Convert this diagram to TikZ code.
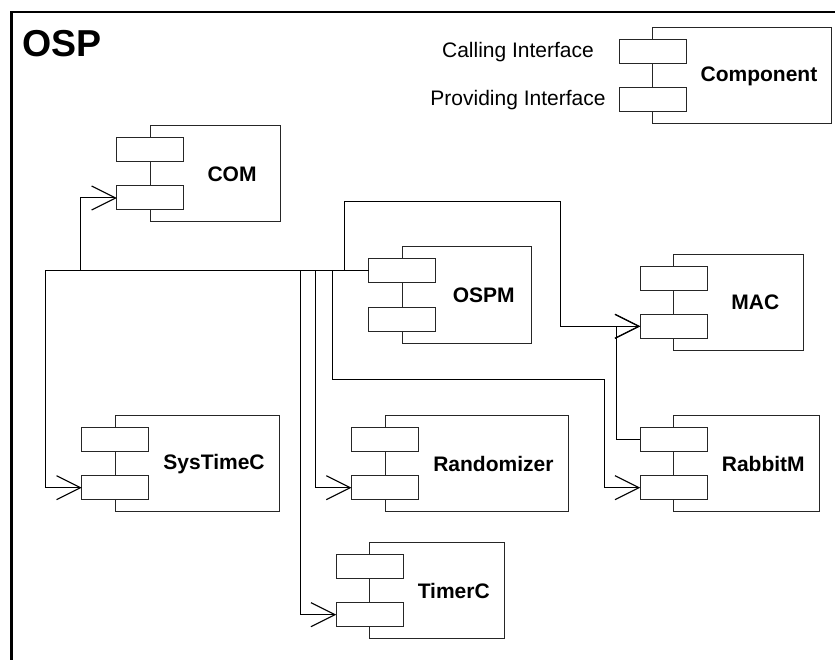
\documentclass[tikz,border=0pt]{standalone}
\usepackage{fontspec}
\setmainfont{Liberation Sans}
\usetikzlibrary{calc,arrows.meta}
\tikzset{
  mainbox/.style={draw=black!85, line width=1pt, minimum height=96pt, inner sep=0pt, outer sep=0pt, fill=white},
  portbox/.style={draw=black!85, line width=1pt, minimum width=67pt, minimum height=24pt, inner sep=0pt, outer sep=0pt, fill=white},
  lbl/.style={inner sep=0pt, font=\fontsize{21}{25}\selectfont\bfseries},
  legtxt/.style={inner sep=0pt, font=\fontsize{21}{25}\selectfont},
  conn/.style={draw=black, line width=1pt, -{Straight Barb[length=24pt,width=24pt,line width=1.1pt]}},
  frame/.style={draw=black, line width=2.2pt}
}
\newcommand\mycomp[5]{%
  \node[mainbox, minimum width=#4pt, anchor=north west] (#1) at (#2,#3) {};
  \node[portbox, anchor=north west] (#1-c) at ([xshift=-33.5pt, yshift=-12pt]#1.north west) {};
  \node[portbox, anchor=north west] (#1-p) at ([xshift=-33.5pt, yshift=-60pt]#1.north west) {};
  \node[lbl] (#1-l) at ($(#1-c.east |- #1.center)!0.5!(#1.east)$) {#5};
}
\begin{document}
\begin{tikzpicture}[x=1pt,y=-1pt]
\useasboundingbox (0,0) rectangle (835,660);
\clip (0,0) rectangle (835,660);
\fill[white] (0,0) rectangle (835,660);
\draw[frame] (11.5,700) -- (11.5,12) -- (900,12) -- (900,700) -- cycle;
\node[inner sep=0pt, anchor=base west, font=\fontsize{37.5}{42}\selectfont\bfseries] (osp) at (22,57) {OSP};

\mycomp{Legend}{652.7}{28}{179}{Component}
\node[legtxt] (calltxt) at (518,52) {Calling Interface};
\node[legtxt] (provtxt) at (518,100) {Providing Interface};

\mycomp{COM}{150.3}{126}{130}{COM}
\mycomp{OSPM}{402.3}{247}{129.5}{OSPM}
\mycomp{MAC}{673.7}{254.3}{129.6}{MAC}
\mycomp{RabbitM}{673.7}{415.7}{145.6}{RabbitM}
\mycomp{Randomizer}{385}{415.7}{183.3}{Randomizer}
\mycomp{SysTimeC}{115.3}{415.7}{164}{SysTimeC}
\mycomp{TimerC}{369.7}{542.7}{134.6}{TimerC}

\coordinate (r1) at (332.7,379.3);
\coordinate (m1) at (344,202);
\coordinate (m2) at (560,0);

\draw[conn] (OSPM-c.west) -| ([xshift=-36pt]COM-p.west) -- (COM-p.west);
\draw[conn] (OSPM-c.west) -| ([xshift=-36.4pt]SysTimeC-p.west) -- (SysTimeC-p.west);
\draw[conn] (OSPM-c.west) -| ([xshift=-36pt]TimerC-p.west) -- (TimerC-p.west);
\draw[conn] (OSPM-c.west) -| ([xshift=-36.4pt]Randomizer-p.west) -- (Randomizer-p.west);
\draw[conn] (OSPM-c.west) -| (r1) -| ([xshift=-36pt]RabbitM-p.west) -- (RabbitM-p.west);
\draw[conn] (OSPM-c.west) -| (m1) -| (m2 |- MAC-p.west) -- (MAC-p.west);
\draw[conn] (RabbitM-c.west) -| ([xshift=-24pt]MAC-p.west) -- (MAC-p.west);
\end{tikzpicture}
\end{document}
